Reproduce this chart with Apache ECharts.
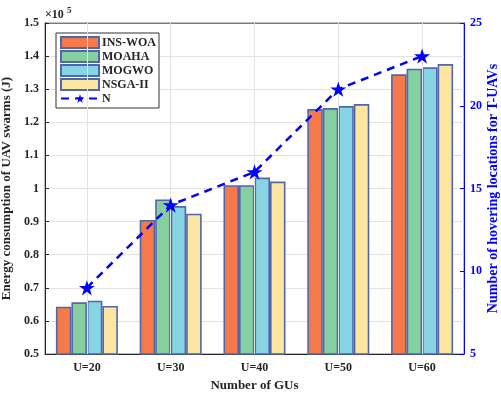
<!DOCTYPE html>
<html>
<head>
<meta charset="utf-8">
<script src="https://cdn.jsdelivr.net/npm/echarts@6/dist/echarts.min.js"></script>
<style>
  html, body { margin: 0; padding: 0; background: #fff; }
  #chart { width: 501px; height: 399px; }
</style>
</head>
<body>
<div id="chart"></div>
<script>
// Group labels on the x axis
const categories = ['U=20', 'U=30', 'U=40', 'U=50', 'U=60'];
// Energy consumption, in units of 10^5 J
const insWoa = [0.643, 0.905, 1.010, 1.240, 1.345];
const moaha  = [0.656, 0.967, 1.010, 1.243, 1.362];
const mogwo  = [0.661, 0.947, 1.033, 1.249, 1.366];
const nsga2  = [0.645, 0.924, 1.021, 1.255, 1.376];
// Number of hovering locations for T-UAVs
const hoverN = [9, 14, 16, 21, 23];
const seriesNames = ['INS-WOA', 'MOAHA', 'MOGWO', 'NSGA-II', 'N'];

const FONT = '"Liberation Serif", "Times New Roman", serif';
const INK = '#262626';
const EDGE = '#5266ae';
const GRID = '#e3e3e3';
const STAR = 'path://M50,0 L61.2,34.5 L97.6,34.5 L68.2,55.9 L79.4,90.5 L50,69.1 L20.6,90.5 L31.8,55.9 L2.4,34.5 L38.8,34.5 Z';

function barSeries(name, data, fill) {
  return {
    name: name,
    type: 'bar',
    data: data,
    xAxisIndex: 0,
    yAxisIndex: 0,
    barGap: '0%',
    barCategoryGap: '26%',
    z: 3,
    itemStyle: { color: fill, borderColor: EDGE, borderWidth: 1.6 }
  };
}

const chart = echarts.init(document.getElementById('chart'), null, { renderer: 'canvas' });

chart.setOption({
  animation: false,
  backgroundColor: '#fff',
  textStyle: { fontFamily: FONT },
  grid: {
    left: 45, right: 37, top: 23, bottom: 45,
    outerBoundsMode: 'none',
    containLabel: false,
    show: true, borderColor: '#7a7a7a', borderWidth: 1, backgroundColor: 'transparent'
  },
  legend: {
    orient: 'vertical',
    left: 56, top: 33,
    data: [
      { name: 'INS-WOA', icon: 'rect' },
      { name: 'MOAHA', icon: 'rect' },
      { name: 'MOGWO', icon: 'rect' },
      { name: 'NSGA-II', icon: 'rect' },
      { name: 'N' }
    ],
    itemWidth: 38, itemHeight: 11, itemGap: 1,
    padding: [3, 3, 3, 4],
    borderColor: '#333', borderWidth: 1, backgroundColor: '#fff',
    textStyle: { fontFamily: FONT, fontWeight: 'bold', fontSize: 12, color: INK, padding: [0, 0, 0, -2], lineHeight: 13 }
  },
  xAxis: [
    {
      type: 'category',
      data: categories,
      position: 'bottom',
      name: 'Number of GUs',
      nameLocation: 'middle',
      nameGap: 24,
      nameTextStyle: { fontFamily: FONT, fontWeight: 'bold', fontSize: 13, color: INK },
      axisLine: { show: true, lineStyle: { color: INK, width: 1 } },
      axisTick: { show: true, inside: true, alignWithLabel: true, length: 4, lineStyle: { color: INK } },
      axisLabel: { fontFamily: FONT, fontWeight: 'bold', fontSize: 12, color: INK, margin: 8 },
      splitLine: { show: false }
    },
    {
      type: 'category',
      data: categories,
      position: 'top',
      axisLine: { show: true, lineStyle: { color: '#7a7a7a', width: 1 } },
      axisTick: { show: true, inside: true, alignWithLabel: true, length: 4, lineStyle: { color: INK } },
      axisLabel: { show: false },
      splitLine: { show: false }
    }
  ],
  yAxis: [
    {
      type: 'value',
      min: 0.5, max: 1.5, interval: 0.1,
      position: 'left',
      name: 'Energy consumption of UAV swarms (J)',
      nameLocation: 'middle',
      nameGap: 27,
      nameTextStyle: { fontFamily: FONT, fontWeight: 'bold', fontSize: 13, color: INK },
      axisLine: { show: true, lineStyle: { color: INK, width: 1 } },
      axisTick: { show: true, inside: true, length: 4, lineStyle: { color: INK } },
      axisLabel: {
        fontFamily: FONT, fontWeight: 'bold', fontSize: 12, color: INK, margin: 6,
        formatter: v => String(Math.round(v * 10) / 10)
      },
      splitLine: { show: true, lineStyle: { color: GRID, width: 1 } }
    },
    {
      type: 'value',
      min: 5, max: 25, interval: 5,
      position: 'right',
      axisLine: { show: true, lineStyle: { color: '#0000ff', width: 1 } },
      axisTick: { show: true, inside: true, length: 4, lineStyle: { color: '#0000ff' } },
      axisLabel: { fontFamily: FONT, fontWeight: 'bold', fontSize: 12, color: '#0000ff', margin: 6 },
      splitLine: { show: false }
    }
  ],
  series: [
    {
      // vertical grid lines through the group centres
      name: 'vgrid',
      type: 'line',
      data: [],
      z: 0,
      silent: true,
      markLine: {
        silent: true,
        symbol: ['none', 'none'],
        label: { show: false },
        lineStyle: { color: GRID, type: 'solid', width: 1 },
        data: categories.map(c => ({ xAxis: c }))
      }
    },
    barSeries('INS-WOA', insWoa, '#f47a4a'),
    barSeries('MOAHA', moaha, '#86cfa0'),
    barSeries('MOGWO', mogwo, '#87d5e3'),
    barSeries('NSGA-II', nsga2, '#fbe5a0'),
    {
      name: 'N',
      type: 'line',
      data: hoverN,
      xAxisIndex: 0,
      yAxisIndex: 1,
      z: 5,
      symbol: STAR,
      symbolSize: 16,
      symbolKeepAspect: true,
      lineStyle: { color: '#0000ff', width: 2.5, type: [8, 6] },
      itemStyle: { color: '#0000ff' }
    }
  ],
  graphic: [
    {
      type: 'text',
      left: 45, top: 9,
      style: {
        text: '×10',
        fontFamily: FONT, fontSize: 12, fontWeight: 'bold', fill: INK
      }
    },
    {
      type: 'text',
      left: 67, top: 6,
      style: {
        text: '5',
        fontFamily: FONT, fontSize: 9, fontWeight: 'bold', fill: INK
      }
    },
    {
      // right-hand axis title, reading bottom to top
      type: 'text',
      x: 493, y: 188.5,
      rotation: Math.PI / 2,
      style: {
        text: 'Number of hovering locations for T-UAVs',
        fontFamily: FONT, fontSize: 14, fontWeight: 'bold', fill: '#0000ff',
        align: 'center', verticalAlign: 'middle'
      }
    }
  ]
});
</script>
</body>
</html>
